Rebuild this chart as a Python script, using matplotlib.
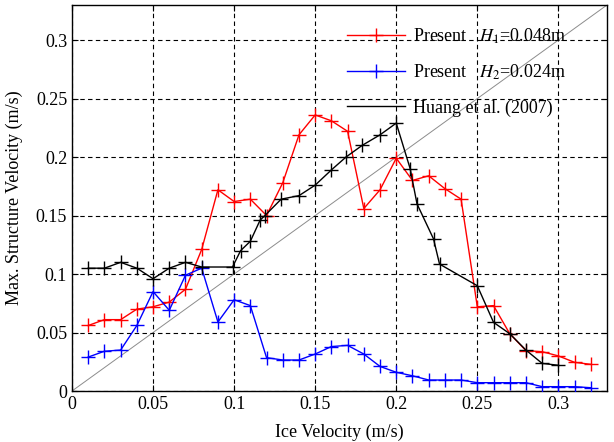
import matplotlib
matplotlib.use("Agg")
import matplotlib.pyplot as plt
from matplotlib.lines import Line2D

plt.rcParams['font.family'] = ['Liberation Serif', 'DejaVu Serif']
plt.rcParams['mathtext.fontset'] = 'stix'

# Present, H1 = 0.048 m
x_h1 = [0.01, 0.02, 0.03, 0.04, 0.05, 0.06, 0.07, 0.08, 0.09, 0.10, 0.11, 0.12,
        0.13, 0.14, 0.15, 0.16, 0.17, 0.18, 0.19, 0.20, 0.21, 0.22, 0.23, 0.24,
        0.25, 0.26, 0.27, 0.28, 0.29, 0.30, 0.31, 0.32]
y_h1 = [0.056, 0.061, 0.061, 0.070, 0.072, 0.076, 0.087, 0.121, 0.172, 0.162, 0.164, 0.150,
        0.178, 0.219, 0.236, 0.231, 0.222, 0.156, 0.172, 0.199, 0.180, 0.184, 0.173, 0.164,
        0.072, 0.073, 0.049, 0.0345, 0.0336, 0.030, 0.0245, 0.0228]

# Present, H2 = 0.024 m
x_h2 = [0.01, 0.02, 0.03, 0.04, 0.05, 0.06, 0.07, 0.08, 0.09, 0.10, 0.11, 0.12,
        0.13, 0.14, 0.15, 0.16, 0.17, 0.18, 0.19, 0.20, 0.21, 0.22, 0.23, 0.24,
        0.25, 0.26, 0.27, 0.28, 0.29, 0.30, 0.31, 0.32]
y_h2 = [0.029, 0.034, 0.035, 0.056, 0.085, 0.069, 0.099, 0.105, 0.059, 0.078, 0.073, 0.0285,
        0.0265, 0.0265, 0.0316, 0.038, 0.039, 0.0316, 0.021, 0.016, 0.013, 0.0094, 0.0094, 0.0094,
        0.0071, 0.0071, 0.0071, 0.0071, 0.0037, 0.0037, 0.0037, 0.0028]

# Huang et al. (2007)
x_huang = [0.01, 0.02, 0.03, 0.04, 0.05, 0.06, 0.07, 0.08, 0.099, 0.104, 0.11, 0.116,
           0.119, 0.129, 0.14, 0.15, 0.16, 0.169, 0.179, 0.19, 0.20, 0.2086, 0.2128,
           0.223, 0.2267, 0.25, 0.26, 0.27, 0.28, 0.29, 0.30]
y_huang = [0.105, 0.105, 0.110, 0.105, 0.096, 0.105, 0.110, 0.106, 0.106, 0.120, 0.128, 0.146,
           0.150, 0.164, 0.167, 0.176, 0.189, 0.200, 0.210, 0.219, 0.229, 0.190, 0.160,
           0.130, 0.1085, 0.090, 0.0587, 0.049, 0.035, 0.0236, 0.022]

xticks = [0, 0.05, 0.1, 0.15, 0.2, 0.25, 0.3]
xtick_labels = ['0', '0.05', '0.1', '0.15', '0.2', '0.25', '0.3']
yticks = [0, 0.05, 0.1, 0.15, 0.2, 0.25, 0.3]
ytick_labels = ['0', '0.05', '0.1', '0.15', '0.2', '0.25', '0.3']

fig = plt.figure(figsize=(6.14, 4.42), dpi=100)
ax = fig.add_axes([72/614, 1-391/442, (607-72)/614, (391-5)/442])

ax.plot([0, 0.33], [0, 0.33], color='#8c8c8c', lw=0.7, zorder=1)
ax.plot(x_h1, y_h1, color='red', marker='+', ms=10, mew=1.0, lw=1.0, zorder=3)
ax.plot(x_h2, y_h2, color='blue', marker='+', ms=10, mew=1.0, lw=1.0, zorder=3)
ax.plot(x_huang, y_huang, color='black', marker='+', ms=10, mew=1.0, lw=1.0, zorder=4)

ax.set_xlim(0, 0.33)
ax.set_ylim(0, 0.33)
ax.set_xticks(xticks)
ax.set_xticklabels(xtick_labels)
ax.set_yticks(yticks)
ax.set_yticklabels(ytick_labels)
ax.tick_params(direction='in', top=True, right=True, labelsize=13, length=4, width=0.8)
ax.grid(True, color='black', linestyle=(0, (4, 3)), lw=0.8)
for s in ax.spines.values():
    s.set_linewidth(1.0)

ax.set_xlabel('Ice Velocity (m/s)', fontsize=13, labelpad=8)
ax.set_ylabel('Max. Structure Velocity (m/s)', fontsize=13, labelpad=9)

handles = [Line2D([], [], color='red', marker='+', ms=10, lw=1.0),
           Line2D([], [], color='blue', marker='+', ms=10, lw=1.0),
           Line2D([], [], color='black', lw=1.0)]
labels = ['Present   $H_1$=0.048m', 'Present   $H_2$=0.024m', 'Huang et al. (2007)']
leg = ax.legend(handles, labels, loc='upper left', bbox_to_anchor=(0.514, 0.945),
                frameon=False, fontsize=13, handlelength=3.2, handletextpad=0.45,
                labelspacing=0.95, borderpad=0, borderaxespad=0)

fig.savefig('out.png', dpi=100)
